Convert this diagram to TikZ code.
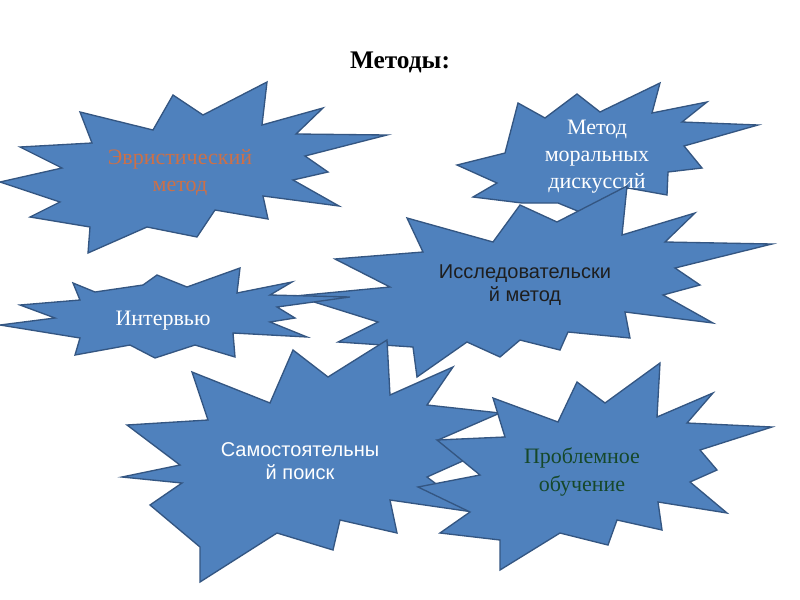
\documentclass[tikz,border=0pt]{standalone}
\usepackage{fontspec}
\setmainfont{Liberation Serif}
\newfontfamily\arialf{Liberation Sans}
\definecolor{burstfill}{RGB}{79,129,189}
\definecolor{burstline}{RGB}{52,86,130}
\definecolor{heurtext}{RGB}{204,112,72}
\definecolor{probtext}{RGB}{22,72,42}
\definecolor{restext}{RGB}{30,30,30}
\tikzset{
  burst/.style={fill=burstfill, draw=burstline, line width=1pt, line join=miter},
  serlbl/.style={align=center, inner sep=0pt, font=\fontsize{16.5}{20.3}\selectfont},
  sanlbl/.style={align=center, inner sep=0pt, font=\arialf\fontsize{15}{17.5}\selectfont},
}
\begin{document}
\begin{tikzpicture}[x=0.75pt, y=-0.75pt]
\useasboundingbox (0,0) rectangle (800,600);
\fill[white] (0,0) rectangle (800,600);

% title
\node[font=\fontsize{19}{23}\selectfont\bfseries, inner sep=0pt] (title) at (400,62) {Методы:};

% Heuristic method burst
\path[burst] (267,82) -- (262,125) -- (323,108) -- (296,134) -- (387,135) -- (305,156)
  -- (328,172) -- (293,180) -- (339,206) -- (263,196) -- (268,219) -- (215,210)
  -- (197,237) -- (147,227) -- (88,253) -- (90,227) -- (30,217) -- (60,202)
  -- (0,182) -- (62,168) -- (20,147) -- (92,143) -- (80,112) -- (153,130)
  -- (173,95) -- (203,115) -- cycle;
\node[serlbl, text=heurtext] (heur) at (180,173) {Эвристический\\метод};

% Moral discussions burst
\path[burst] (660,83) -- (652,113) -- (707,102) -- (682,122) -- (758,125) -- (684,146)
  -- (702,168) -- (668,172) -- (667,195) -- (628,188) -- (580,212) -- (558,203)
  -- (522,203) -- (473,197) -- (497,183) -- (457,165) -- (505,153) -- (518,103)
  -- (545,118) -- (577,94) -- (600,112) -- cycle;
\node[serlbl, text=white] (moral) at (597,157) {Метод\\моральных\\дискуссий};

% Research method burst
\path[burst] (627,186) -- (622,235) -- (695,213) -- (665,242) -- (772,244) -- (675,268)
  -- (700,285) -- (663,295) -- (713,323) -- (625,312) -- (630,338) -- (568,332)
  -- (560,350) -- (520,340) -- (500,357) -- (467,342) -- (417,377) -- (413,347)
  -- (338,342) -- (378,322) -- (295,296) -- (390,287) -- (335,259) -- (423,252)
  -- (407,218) -- (493,242) -- (520,205) -- (557,222) -- cycle;
\node[sanlbl, text=restext] (research) at (525,285) {Исследовательски\\й метод};

% Interview burst
\path[burst] (73,283) -- (95,292) -- (143,285) -- (157,275) -- (187,287) -- (240,268)
  -- (237,293) -- (292,282) -- (270,295) -- (350,297) -- (277,307) -- (295,318)
  -- (270,322) -- (307,337) -- (233,333) -- (235,357) -- (195,345) -- (155,358)
  -- (130,345) -- (75,355) -- (80,338) -- (0,325) -- (55,318) -- (20,305)
  -- (80,300) -- cycle;
\node[serlbl, text=white] (interview) at (163,321) {Интервью};

% Independent search burst
\path[burst] (293,350) -- (328,377) -- (387,340) -- (390,395) -- (453,367) -- (427,405)
  -- (500,413) -- (438,440) -- (465,460) -- (427,477) -- (473,512) -- (390,500)
  -- (397,533) -- (340,520) -- (333,550) -- (277,533) -- (200,582) -- (200,547)
  -- (150,505) -- (182,483) -- (122,477) -- (180,465) -- (127,425) -- (208,420)
  -- (192,372) -- (270,403) -- cycle;
\node[sanlbl, text=white] (search) at (300,461) {Самостоятельны\\й поиск};

% Problem learning burst
\path[burst] (660,363) -- (657,417) -- (713,393) -- (687,423) -- (772,427) -- (700,450)
  -- (717,470) -- (690,482) -- (727,513) -- (658,502) -- (662,530) -- (617,520)
  -- (608,545) -- (560,533) -- (500,570) -- (500,540) -- (440,533) -- (470,512)
  -- (418,487) -- (480,475) -- (437,440) -- (505,437) -- (493,398) -- (558,422)
  -- (577,382) -- (605,403) -- cycle;
\node[serlbl, text=probtext] (problem) at (582,472) {Проблемное\\обучение};
\end{tikzpicture}
\end{document}
